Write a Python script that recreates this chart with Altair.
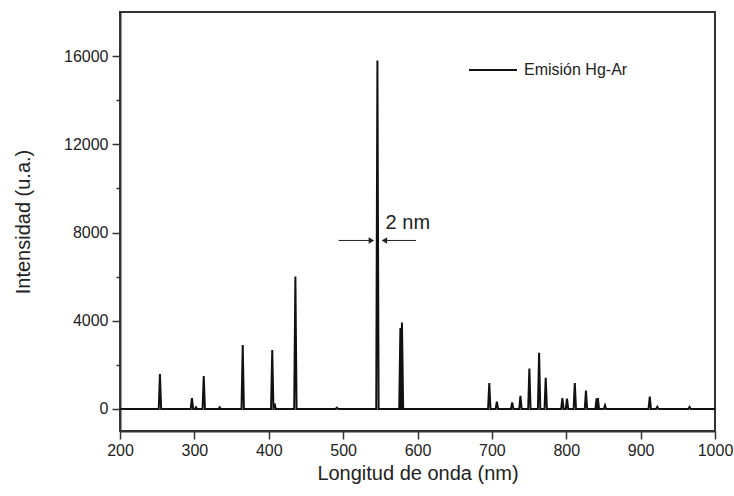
import altair as alt
import pandas as pd

# Peak wavelengths (nm) and intensities (a.u.)
peak_nm = [253.7, 296.7, 302.2, 312.6, 334.1, 365.0, 404.7, 407.8, 435.8, 491.6,
           546.1, 577.0, 579.1, 696.5, 706.7, 727.3, 738.4, 750.4, 763.5, 772.4,
           794.8, 801.0, 811.5, 826.5, 840.8, 842.5, 852.1, 912.3, 922.4, 965.8]
peak_int = [1580, 490, 80, 1490, 80, 2900, 2670, 250, 6000, 60,
            15800, 3670, 3920, 1180, 330, 290, 600, 1830, 2550, 1410,
            490, 470, 1180, 830, 480, 490, 170, 560, 100, 90]
baseline = 0
half_width = 1.6  # nm, half of line base width

x_range = [200, 1000]
y_range = [-1000, 18000]
x_ticks = list(range(200, 1001, 50))
y_ticks = list(range(0, 16001, 2000))

# annotation "2 nm" with arrows
arrow_shaft_x = [494, 555.5]
arrow_shaft_x2 = [538, 598]
arrow_y = [7640, 7640]
arrow_head_x = [538, 555.5]
arrow_head_shape = ["triangle-right", "triangle-left"]
label_x = [587]
label_y = [8420]
label_text = ["2 nm"]

series_name = "Emisión Hg-Ar"

# build spectrum polyline from peaks
rows = [{"nm": x_range[0], "I": baseline, "s": series_name}]
for c, h in zip(peak_nm, peak_int):
    rows.append({"nm": c - half_width, "I": baseline, "s": series_name})
    rows.append({"nm": c, "I": h, "s": series_name})
    rows.append({"nm": c + half_width, "I": baseline, "s": series_name})
rows.append({"nm": x_range[1], "I": baseline, "s": series_name})
spec = pd.DataFrame(rows)
spec["o"] = range(len(spec))

FONT = "Liberation Sans"

x_scale = alt.Scale(domain=x_range, nice=False, zero=False)
y_scale = alt.Scale(domain=y_range, nice=False, zero=False)

x_axis = alt.Axis(
    values=x_ticks,
    labelExpr="datum.value % 100 == 0 ? datum.label : ''",
    format="d",
    title="Longitud de onda (nm)",
    tickSize={"condition": {"test": "datum.value % 100 == 0", "value": 8}, "value": 4},
    labelPadding=3, titlePadding=5, labelFlush=False, labelOverlap=False,
    grid=False,
)
y_axis = alt.Axis(
    values=y_ticks,
    labelExpr="datum.value % 4000 == 0 ? datum.label : ''",
    format="d",
    title="Intensidad (u.a.)",
    tickSize={"condition": {"test": "datum.value % 4000 == 0", "value": 8}, "value": 4},
    labelPadding=4, titlePadding=30, labelFlush=False, labelOverlap=False,
    grid=False,
)

line = alt.Chart(spec).mark_line(strokeWidth=2, strokeJoin="miter", clip=True).encode(
    x=alt.X("nm:Q", scale=x_scale, axis=x_axis),
    y=alt.Y("I:Q", scale=y_scale, axis=y_axis),
    order="o:Q",
    color=alt.Color(
        "s:N",
        scale=alt.Scale(range=["#111111"]),
        legend=alt.Legend(
            title=None, orient="none", legendX=348, legendY=33,
            symbolType="stroke", symbolSize=2304, symbolStrokeWidth=2,
            labelFont=FONT, labelFontSize=16, labelColor="#222",
            labelOffset=6,
        ),
    ),
)

arrows_df = pd.DataFrame({"x": arrow_shaft_x, "x2": arrow_shaft_x2, "y": arrow_y})
shafts = alt.Chart(arrows_df).mark_rule(color="#222", strokeWidth=1).encode(
    x="x:Q", x2="x2:Q", y="y:Q"
)
heads_df = pd.DataFrame({"x": arrow_head_x, "y": arrow_y, "shape": arrow_head_shape})
heads = alt.Chart(heads_df).mark_point(filled=True, color="#222", size=40, opacity=1).encode(
    x="x:Q", y="y:Q",
    shape=alt.Shape("shape:N", scale=None),
)
label_df = pd.DataFrame({"x": label_x, "y": label_y, "t": label_text})
label = alt.Chart(label_df).mark_text(
    font=FONT, fontSize=20, color="#222", align="center", baseline="middle"
).encode(x="x:Q", y="y:Q", text="t:N")

chart = (
    alt.layer(line, shafts, heads, label)
    .properties(
        width=595, height=419,
        autosize=alt.AutoSizeParams(type="none"),
        padding={"left": 120, "top": 12, "right": 19, "bottom": 65},
        background="white",
    )
    .configure_view(stroke="#333", strokeWidth=2)
    .configure_axis(
        labelFont=FONT, labelFontSize=16, labelColor="#222",
        titleFont=FONT, titleFontSize=20, titleFontWeight="normal", titleColor="#222",
        domainColor="#333", domainWidth=2, tickColor="#333", tickWidth=1.5,
    )
)

chart.save("out.html", embed_options={"renderer": "svg", "actions": False})
